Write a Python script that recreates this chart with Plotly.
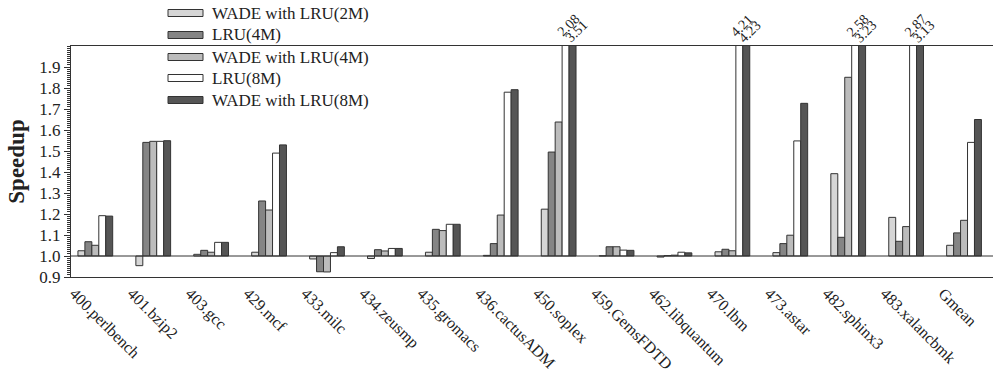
import plotly.graph_objects as go

benchmarks = ["400.perlbench", "401.bzip2", "403.gcc", "429.mcf", "433.milc", "434.zeusmp",
              "435.gromacs", "436.cactusADM", "450.soplex", "459.GemsFDTD", "462.libquantum",
              "470.lbm", "473.astar", "482.sphinx3", "483.xalancbmk", "Gmean"]

wade_lru_2m = [1.025, 0.954, 1.008, 1.018, 0.986, 0.988, 1.018, 1.003, 1.223, 1.001, 0.995, 1.020, 1.016, 1.392, 1.184, 1.051]
lru_4m      = [1.068, 1.541, 1.027, 1.262, 0.925, 1.030, 1.127, 1.059, 1.495, 1.044, 1.002, 1.032, 1.059, 1.089, 1.070, 1.110]
wade_lru_4m = [1.051, 1.546, 1.018, 1.219, 0.924, 1.024, 1.121, 1.195, 1.638, 1.044, 1.004, 1.025, 1.099, 1.851, 1.140, 1.170]
lru_8m      = [1.192, 1.546, 1.065, 1.490, 1.016, 1.036, 1.151, 1.780, 2.08, 1.028, 1.018, 4.21, 1.548, 2.58, 2.87, 1.541]
wade_lru_8m = [1.190, 1.549, 1.065, 1.529, 1.044, 1.036, 1.151, 1.792, 3.51, 1.027, 1.015, 4.23, 1.727, 3.23, 3.13, 1.650]

series_names = ["WADE with LRU(2M)", "LRU(4M)", "WADE with LRU(4M)", "LRU(8M)", "WADE with LRU(8M)"]
series_values = [wade_lru_2m, lru_4m, wade_lru_4m, lru_8m, wade_lru_8m]
series_colors = ["#d6d6d6", "#858585", "#bcbcbc", "#ffffff", "#555555"]

y_ticks = [0.9, 1.0, 1.1, 1.2, 1.3, 1.4, 1.5, 1.6, 1.7, 1.8, 1.9]

BASE = 1.0
Y_MAX = 2.0
SERIF = "Liberation Serif, Times New Roman, serif"
OUTLINE = "#333333"

# plot area geometry (pixels)
L, T, W, H = 71, 46, 922, 231
FIG_W, FIG_H = 993, 385
BARGAP = 0.4

fig = go.Figure()
x_idx = list(range(len(benchmarks)))
for name, vals, col in zip(series_names, series_values, series_colors):
    fig.add_trace(go.Bar(
        x=x_idx, y=[v - BASE for v in vals], base=BASE, name=name,
        marker=dict(color=col, line=dict(color=OUTLINE, width=1)),
        showlegend=False,
    ))

# value labels for bars that run past the top of the axis;
# consecutive labels in a group are stepped down so they don't collide
n = len(series_values)
bar_w = (1 - BARGAP) / n
annotations = []
for i in x_idx:
    clipped = [s for s in range(n) if series_values[s][i] > Y_MAX]
    for k, s in enumerate(clipped):
        v = series_values[s][i]
        annotations.append(dict(
            x=i + (s - (n - 1) / 2) * bar_w - bar_w * 0.5, y=Y_MAX, xref="x", yref="y",
            text=f"{v:.2f}", textangle=-45, showarrow=False,
            xanchor="left", yanchor="bottom",
            xshift=-11 + 1 * k, yshift=4 - 6 * k if len(clipped) > 1 else -1,
            font=dict(family=SERIF, size=14, color="#222"),
        ))

# hand-drawn legend with wide swatches
shapes = []
rows_py = [13, 35, 57, 78, 100]
for name, col, py in zip(series_names, series_colors, rows_py):
    y0 = (FIG_H - 108 - py - 3.5) / H
    y1 = (FIG_H - 108 - py + 3.5) / H
    shapes.append(dict(type="rect", xref="paper", yref="paper",
                       x0=(168 - L) / W, x1=(203 - L) / W, y0=y0, y1=y1,
                       fillcolor=col, line=dict(color=OUTLINE, width=1)))
    annotations.append(dict(x=(210 - L) / W, y=(FIG_H - 108 - py) / H, xref="paper", yref="paper",
                            text=name, showarrow=False, xanchor="left", yanchor="middle",
                            font=dict(family=SERIF, size=17, color="#222")))

# reference line at speedup = 1.0
shapes.append(dict(type="line", xref="paper", yref="y", x0=0, x1=1, y0=BASE, y1=BASE,
                   line=dict(color=OUTLINE, width=1)))

fig.update_layout(
    width=FIG_W, height=FIG_H,
    margin=dict(l=L, r=FIG_W - L - W, t=T, b=FIG_H - T - H),
    paper_bgcolor="white", plot_bgcolor="white",
    barmode="group", bargap=BARGAP, bargroupgap=0,
    showlegend=False,
    shapes=shapes, annotations=annotations,
    xaxis=dict(
        range=[-0.42, len(benchmarks) - 0.5],
        tickmode="array", tickvals=x_idx, ticktext=benchmarks,
        tickangle=45, ticks="", showgrid=False, zeroline=False,
        showline=True, linecolor=OUTLINE, linewidth=1, mirror=True,
        ticklabelshift=-21,
        tickfont=dict(family=SERIF, size=16, color="#222"),
    ),
    yaxis=dict(
        range=[0.9, Y_MAX],
        tickmode="array", tickvals=y_ticks, ticktext=[f"{t:.1f}" for t in y_ticks],
        ticks="outside", ticklen=6, tickcolor=OUTLINE,
        minor=dict(dtick=0.01, ticks="outside", ticklen=3, tickcolor=OUTLINE, showgrid=False),
        showgrid=False, zeroline=False,
        showline=True, linecolor=OUTLINE, linewidth=1,
        tickfont=dict(family=SERIF, size=17, color="#222"),
        title=dict(text="<b>Speedup</b>", font=dict(family=SERIF, size=23, color="#222"), standoff=8),
    ),
)

fig.write_html("out.html")
